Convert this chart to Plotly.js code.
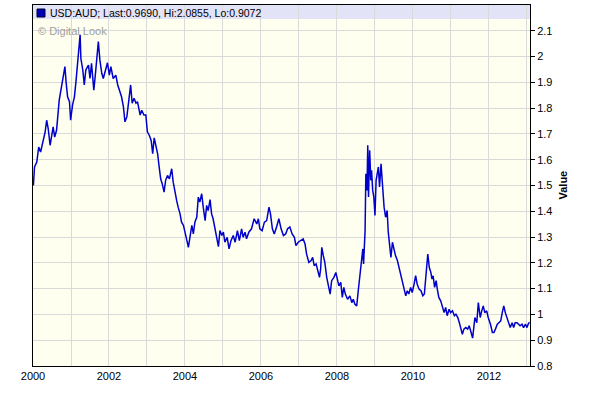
<!DOCTYPE html>
<html>
<head>
<meta charset="utf-8">
<script src="https://cdn.plot.ly/plotly-3.0.1.min.js"></script>
<style>html,body{margin:0;padding:0;background:#fff;}#chart{width:590px;height:401px;}</style>
</head>
<body>
<div id="chart"></div>
<script>
// Time in decimal years, USD:AUD rate
const years = [
2000.01,2000.04,2000.10,2000.15,2000.20,2000.27,2000.32,2000.36,2000.40,2000.45,2000.49,2000.53,2000.57,2000.62,2000.69,2000.75,2000.80,2000.84,2000.87,2000.91,2000.96,2000.99,
2001.04,2001.09,2001.13,2001.18,2001.21,2001.24,2001.26,2001.31,2001.35,2001.39,2001.46,2001.50,2001.54,2001.60,2001.64,2001.68,2001.72,2001.76,2001.81,2001.85,2001.90,2001.96,
2002.01,2002.05,2002.11,2002.18,2002.23,2002.29,2002.33,2002.38,2002.42,2002.47,2002.49,2002.53,2002.57,2002.61,2002.66,2002.71,2002.75,2002.82,2002.86,2002.92,2002.97,
2003.01,2003.06,2003.11,2003.15,2003.19,2003.24,2003.28,2003.32,2003.36,2003.40,2003.45,2003.49,2003.54,2003.59,2003.65,2003.69,2003.74,2003.78,2003.82,2003.87,2003.91,2003.96,
2004.00,2004.04,2004.09,2004.13,2004.18,2004.22,2004.26,2004.31,2004.35,2004.39,2004.44,2004.48,2004.53,2004.57,2004.61,2004.66,2004.70,2004.74,2004.79,2004.83,2004.88,2004.92,2004.97,
2005.01,2005.05,2005.11,2005.16,2005.21,2005.27,2005.32,2005.38,2005.43,2005.49,2005.53,2005.58,2005.62,2005.68,2005.75,2005.82,2005.89,2005.93,2005.97,
2006.03,2006.09,2006.15,2006.21,2006.25,2006.30,2006.35,2006.41,2006.47,2006.53,2006.59,2006.65,2006.70,2006.76,2006.82,2006.88,2006.92,2006.98,
2007.05,2007.11,2007.16,2007.20,2007.26,2007.32,2007.36,2007.40,2007.45,2007.49,2007.54,2007.57,2007.60,2007.64,2007.68,2007.73,2007.77,2007.82,2007.86,2007.92,2007.97,
2008.01,2008.05,2008.10,2008.14,2008.18,2008.22,2008.28,2008.34,2008.39,2008.43,2008.47,2008.52,2008.56,2008.61,2008.65,2008.68,2008.70,2008.74,2008.76,2008.79,2008.81,2008.83,2008.86,2008.89,2008.91,2008.94,2008.97,
2009.00,2009.03,2009.06,2009.09,2009.12,2009.16,2009.19,2009.22,2009.24,2009.28,2009.32,2009.35,2009.39,2009.42,2009.46,2009.50,2009.54,2009.59,2009.63,2009.68,2009.72,2009.76,2009.81,2009.85,2009.89,2009.94,2009.98,
2010.03,2010.07,2010.11,2010.16,2010.21,2010.26,2010.30,2010.33,2010.37,2010.39,2010.43,2010.47,2010.50,2010.53,2010.57,2010.61,2010.64,2010.68,2010.73,2010.77,2010.82,2010.86,2010.90,2010.95,2010.99,
2011.04,2011.09,2011.13,2011.18,2011.22,2011.26,2011.30,2011.34,2011.39,2011.44,2011.48,2011.53,2011.57,2011.63,2011.68,2011.72,2011.77,2011.81,2011.85,2011.89,2011.94,2011.98,
2012.04,2012.09,2012.13,2012.17,2012.22,2012.26,2012.31,2012.35,2012.39,2012.43,2012.47,2012.52,2012.56,2012.61,2012.65,2012.69,2012.74,2012.78,2012.82,2012.87,2012.91,2012.96,
2013.00,2013.04,2013.07
];
const usdAud = [
1.500,1.572,1.591,1.649,1.630,1.682,1.708,1.753,1.721,1.656,1.695,1.727,1.688,1.714,1.831,1.883,1.922,1.961,1.902,1.844,1.825,1.753,
1.812,1.844,1.902,1.993,2.019,2.085,1.993,1.948,1.890,1.948,1.967,1.915,1.974,1.870,1.928,2.013,2.058,1.987,1.935,1.915,1.948,1.976,
1.928,1.961,1.915,1.928,1.890,1.863,1.844,1.805,1.747,1.766,1.792,1.838,1.890,1.819,1.838,1.819,1.825,1.773,1.792,1.773,1.773,
1.708,1.695,1.675,1.623,1.685,1.649,1.623,1.572,1.526,1.507,1.474,1.520,1.539,1.526,1.565,1.513,1.468,1.442,1.416,1.390,1.358,1.345,
1.319,1.286,1.260,1.299,1.345,1.312,1.358,1.377,1.455,1.436,1.468,1.416,1.364,1.423,1.403,1.445,1.390,1.371,1.332,1.306,1.263,1.325,1.306,
1.319,1.280,1.299,1.254,1.286,1.306,1.280,1.325,1.286,1.332,1.299,1.319,1.293,1.319,1.332,1.371,1.351,1.371,1.332,
1.325,1.358,1.364,1.416,1.390,1.332,1.312,1.339,1.371,1.332,1.306,1.312,1.332,1.339,1.312,1.299,1.267,1.280,
1.286,1.293,1.273,1.234,1.202,1.209,1.221,1.189,1.196,1.170,1.144,1.176,1.260,1.228,1.202,1.144,1.111,1.079,1.131,1.144,1.163,
1.137,1.111,1.124,1.066,1.105,1.079,1.059,1.072,1.046,1.059,1.040,1.033,1.092,1.157,1.221,1.254,1.196,1.325,1.546,1.481,1.656,1.455,1.637,1.520,1.559,1.481,1.455,
1.384,1.520,1.546,1.572,1.494,1.584,1.520,1.455,1.416,1.377,1.403,1.319,1.254,1.221,1.280,1.247,1.228,1.209,1.182,1.157,1.131,1.098,1.072,1.092,1.079,1.105,1.085,
1.118,1.150,1.118,1.098,1.092,1.072,1.079,1.131,1.221,1.234,1.182,1.163,1.137,1.150,1.105,1.131,1.098,1.066,1.053,1.027,1.007,1.027,0.995,1.020,1.007,
1.014,0.995,1.001,0.988,0.968,0.949,0.923,0.943,0.949,0.943,0.956,0.930,0.908,0.988,0.968,1.046,0.988,1.014,1.033,1.007,1.014,0.988,
0.962,0.930,0.930,0.943,0.962,0.968,0.975,1.007,1.033,1.007,0.988,0.962,0.949,0.968,0.949,0.968,0.968,0.962,0.956,0.962,0.949,0.962,
0.949,0.965,0.969
];
const xTickVals = [2000, 2002, 2004, 2006, 2008, 2010, 2012];
const xGridYears = [2001, 2002, 2003, 2004, 2005, 2006, 2007, 2008, 2009, 2010, 2011, 2012, 2013];
const yTickVals = [0.8, 0.9, 1.0, 1.1, 1.2, 1.3, 1.4, 1.5, 1.6, 1.7, 1.8, 1.9, 2.0, 2.1];
const headerText = 'USD:AUD; Last:0.9690, Hi:2.0855, Lo:0.9072';
const creditText = '\u00a9 Digital Look';
const yTitle = 'Value';

const FONT = 'Liberation Sans, Arial, sans-serif';
const GRID = '#dadada';

const trace = {
  x: years, y: usdAud, type: 'scatter', mode: 'lines',
  line: {color: '#0000cc', width: 1.5},
  hoverinfo: 'skip', showlegend: false
};

const layout = {
  width: 590, height: 401,
  margin: {l: 33, r: 60, t: 5, b: 35, pad: 0},
  paper_bgcolor: '#ffffff',
  plot_bgcolor: '#fffff0',
  font: {family: FONT, size: 11, color: '#000'},
  showlegend: false,
  xaxis: {
    range: [2000, 2013.08],
    tickmode: 'array', tickvals: xTickVals,
    ticks: '', showgrid: true, gridcolor: GRID, gridwidth: 1,
    minor: {tickmode: 'array', tickvals: xGridYears, showgrid: true, gridcolor: GRID, gridwidth: 1, ticks: ''},
    showline: true, mirror: true, linecolor: '#000', linewidth: 1,
    zeroline: false, fixedrange: true,
    tickfont: {family: FONT, size: 11, color: '#000'}
  },
  yaxis: {
    side: 'right',
    range: [0.8, 2.2],
    tickmode: 'array', tickvals: yTickVals,
    ticks: 'outside', ticklen: 4, tickcolor: '#000', tickwidth: 1,
    showgrid: true, gridcolor: GRID, gridwidth: 1,
    showline: true, mirror: true, linecolor: '#000', linewidth: 1,
    zeroline: false, fixedrange: true,
    tickfont: {family: FONT, size: 11, color: '#000'}
  },
  shapes: [
    {type: 'rect', xref: 'paper', yref: 'paper', x0: 0, x1: 1, y0: 1 - 14/361, y1: 1,
     fillcolor: '#e3e3f7', line: {width: 0}, layer: 'below'},
    {type: 'rect', xref: 'paper', yref: 'paper', xsizemode: 'pixel', ysizemode: 'pixel',
     xanchor: 4/497, yanchor: 1 - 4/361, x0: 0, x1: 8, y0: -8, y1: 0,
     fillcolor: '#0000b4', line: {color: '#000033', width: 1}, layer: 'above'}
  ],
  annotations: [
    {xref: 'paper', yref: 'paper', x: 15/497, y: 1 - 8/361, xanchor: 'left', yanchor: 'middle',
     text: headerText, showarrow: false, font: {family: FONT, size: 10.5, color: '#000'}},
    {xref: 'paper', yref: 'paper', x: 3/497, y: 1 - 26/361, xanchor: 'left', yanchor: 'middle',
     text: creditText, showarrow: false, font: {family: FONT, size: 11, color: '#a0a0a0'}},
    {xref: 'paper', yref: 'paper', x: 1 + 32/497, y: 0.5, xanchor: 'center', yanchor: 'middle',
     text: '<b>' + yTitle + '</b>', textangle: -90, showarrow: false,
     font: {family: FONT, size: 11, color: '#000'}}
  ]
};

Plotly.newPlot('chart', [trace], layout, {staticPlot: true, displayModeBar: false});
</script>
</body>
</html>
